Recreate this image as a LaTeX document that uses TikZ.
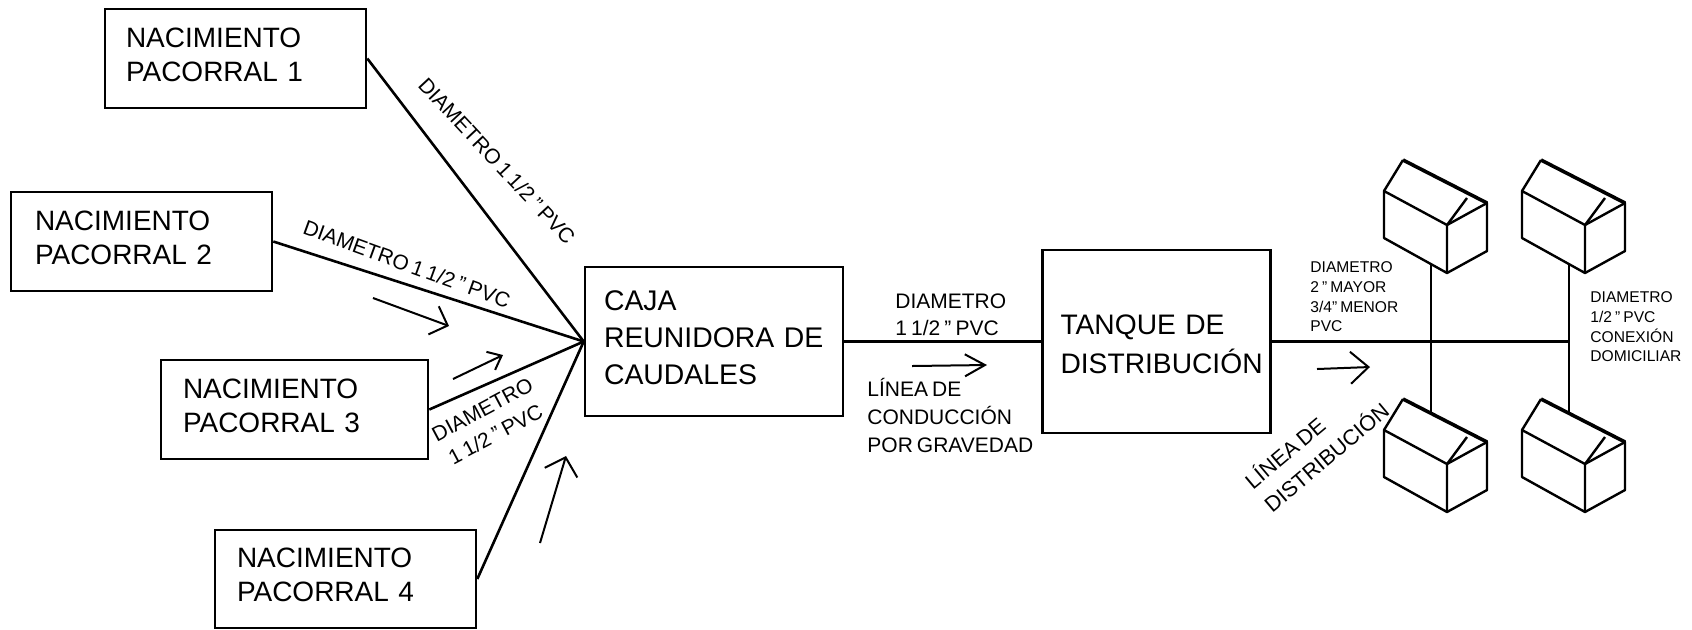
\documentclass[tikz,border=0pt]{standalone}
\usepackage{fontspec}
\setmainfont[WordSpace=0.7]{Liberation Sans}
\usetikzlibrary{arrows.meta}
\tikzset{
  caja/.style={draw,line width=1.3pt,align=left,inner ysep=0pt,text depth=21pt,font=\fontsize{14}{17}\selectfont},
  rotulo/.style={inner sep=0pt,align=left,font=\fontsize{10.5}{14}\selectfont},
  rotulochico/.style={inner sep=0pt,align=left,font=\fontsize{7.8}{9.8}\selectfont},
  tubo/.style={line width=1.3pt},
  flecha/.style={line width=1pt},
  casa/.pic={
    \draw[line width=1.2pt,line join=round] (-63,-35) -- (-63,-82) -- (0,-48) -- (0,0) -- cycle;
    \draw[line width=1.2pt,line join=round] (0,-48) -- (40,-70) -- (40,-22) -- (0,0);
    \draw[line width=1.2pt,line join=round] (-63,-82) -- (-44,-113);
    \draw[line width=1.2pt] (0,-48) -- (20,-75);
    \draw[line width=1.8pt] (-44,-113) -- (40,-70);
    \coordinate (-pie) at (-16,-9);
    \coordinate (-techo) at (-16,-98);
  }
}
\begin{document}
\begin{tikzpicture}[x=0.5pt,y=-0.5pt]
\useasboundingbox (0,0) rectangle (1692,629);
% nacimientos
\node[caja,inner xsep=10.5pt,text width=109.5pt,minimum height=49.5pt] (nac1) at (235.5,58.5) {NACIMIENTO\\PACORRAL 1};
\node[caja,inner xsep=12pt,text width=106.5pt,minimum height=49.5pt] (nac2) at (141.5,241.5) {NACIMIENTO\\PACORRAL 2};
\node[caja,inner xsep=11pt,text width=111.5pt,minimum height=49.5pt] (nac3) at (294.5,409.5) {NACIMIENTO\\PACORRAL 3};
\node[caja,inner xsep=11pt,text width=108.5pt,minimum height=49pt] (nac4) at (345.5,579) {NACIMIENTO\\PACORRAL 4};
% cajas centrales
\node[caja,inner xsep=9.5pt,text width=110pt,minimum height=74.5pt,text depth=41pt,font=\fontsize{14.2}{18.5}\selectfont] (reunidora) at (714,341.5) {CAJA\\\mbox{REUNIDORA DE}\\CAUDALES};
\node[caja,inner xsep=9pt,text width=96pt,minimum height=91.5pt,text depth=19.5pt,text height=12.9pt,font=\fontsize{14.1}{19.5}\selectfont] (tanque) at (1156.5,341.5) {TANQUE DE\\DISTRIBUCIÓN};
% casas
\pic (casaa) at (1447,273) {casa};
\pic (casab) at (1585,273) {casa};
\pic (casac) at (1447,512) {casa};
\pic (casad) at (1585,512) {casa};
% tuberias
\coordinate (cruce1) at (1431,341.5);
\coordinate (cruce2) at (1569,341.5);
\draw[tubo] (nac1.east) -- (reunidora.west);
\draw[tubo] (nac2.east) -- (reunidora.west);
\draw[tubo] (nac3.east) -- (reunidora.west);
\draw[tubo] (nac4.east) -- (reunidora.west);
\draw[tubo] (reunidora.east) -- (tanque.west);
\draw[tubo] (tanque.east) -- (cruce1) -- (cruce2);
\draw[tubo] (casaa-pie) -- (casac-techo);
\draw[tubo] (casab-pie) -- (casad-techo);
% flechas
\coordinate (f1a) at (373,298); \coordinate (f1b) at (449,326);
\coordinate (f2a) at (453,379); \coordinate (f2b) at (503,355);
\coordinate (f3a) at (540,543); \coordinate (f3b) at (566,456);
\coordinate (f4a) at (912,366); \coordinate (f4b) at (987,365);
\coordinate (f5a) at (1317,369); \coordinate (f5b) at (1370,367);
\draw[flecha,-{Straight Barb[length=7.5pt,width=15pt]}] (f1a) -- (f1b);
\draw[flecha,-{Straight Barb[length=6pt,width=10pt]}] (f2a) -- (f2b);
\draw[flecha,-{Straight Barb[length=8pt,width=17pt]}] (f3a) -- (f3b);
\draw[flecha,-{Straight Barb[length=10pt,width=11pt]}] (f4a) -- (f4b);
\draw[flecha,-{Straight Barb[length=9pt,width=16pt]}] (f5a) -- (f5b);
% rotulos
\node[rotulo,rotate=-47] (dia1) at (497,161) {DIAMETRO 1 1/2 " PVC};
\node[rotulo,rotate=-20] (dia2) at (407,264) {DIAMETRO 1 1/2 " PVC};
\node[rotulo,rotate=28,align=center] (dia3) at (489,422) {DIAMETRO\\1 1/2 " PVC};
\node[rotulo,anchor=west,font=\fontsize{10.5}{13.3}\selectfont] (dia4) at (895,315) {DIAMETRO\\1 1/2 " PVC};
\node[rotulo,anchor=west] (conduccion) at (867,415) {LÍNEA DE\\CONDUCCIÓN\\POR GRAVEDAD};
\node[rotulo,rotate=40,font=\fontsize{10.8}{15}\selectfont] (distribucion) at (1316,445) {LÍNEA DE\\DISTRIBUCIÓN};
\node[rotulochico,anchor=west] (dia5) at (1310,297) {DIAMETRO\\2 " MAYOR\\3/4" MENOR\\PVC};
\node[rotulochico,anchor=west] (dia6) at (1590,327) {DIAMETRO\\1/2 " PVC\\CONEXIÓN\\DOMICILIAR};
\end{tikzpicture}
\end{document}
